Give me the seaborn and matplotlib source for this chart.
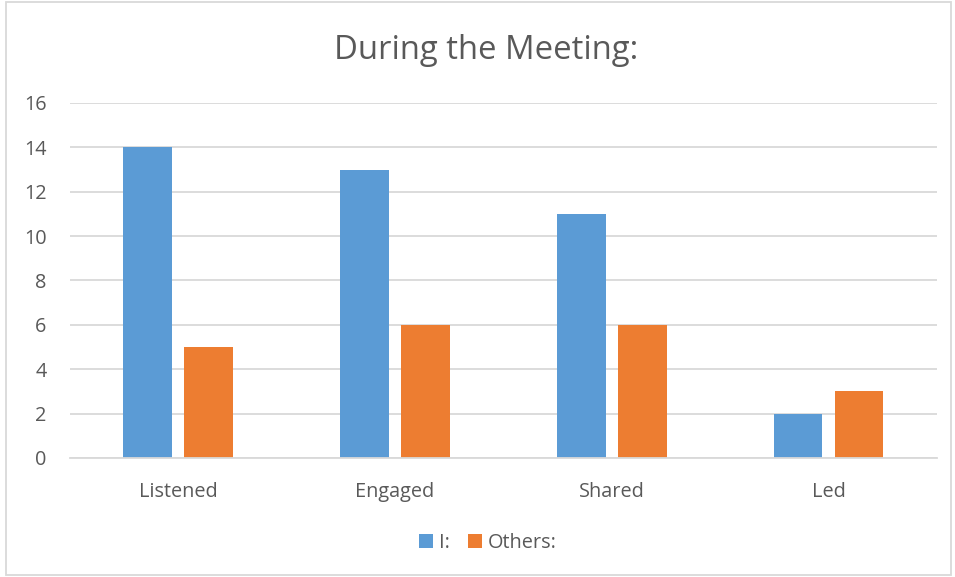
import pandas as pd
import matplotlib
matplotlib.use("Agg")
import matplotlib.pyplot as plt
import seaborn as sns
from matplotlib.patches import Rectangle

# chart data
categories = ['Listened', 'Engaged', 'Shared', 'Led']
series_names = ['I:', 'Others:']
values_i = [14, 13, 11, 2]
values_others = [5, 6, 6, 3]
y_ticks = [0, 2, 4, 6, 8, 10, 12, 14, 16]

df = pd.DataFrame({
    'Category': categories * 2,
    'Series': [series_names[0]] * 4 + [series_names[1]] * 4,
    'Value': values_i + values_others,
})

sns.set_style('white')
plt.rcParams['font.family'] = ['Open Sans', 'DejaVu Sans']
text_color = '#595959'

fig = plt.figure(figsize=(9.55, 5.77), dpi=100)
ax = fig.add_axes([0.0733, 0.2063, 0.9077, 0.6152])

sns.barplot(data=df, x='Category', y='Value', hue='Series', order=categories,
            hue_order=series_names, palette=['#5B9BD5', '#ED7D31'],
            width=0.563, gap=0.2, saturation=1, linewidth=0, ax=ax, legend=True)

ax.set_ylim(0, 16)
ax.set_xlim(-0.5, 3.5)
ax.set_yticks(y_ticks)
ax.set_yticklabels([str(t) for t in y_ticks])
ax.yaxis.grid(True, color='#D9D9D9', linewidth=1.3)
ax.set_axisbelow(True)
for side in ['top', 'right', 'left']:
    ax.spines[side].set_visible(False)
ax.spines['bottom'].set_color('#D9D9D9')
ax.spines['bottom'].set_linewidth(1.3)
ax.tick_params(axis='both', length=0, labelsize=14.3, colors=text_color)
ax.tick_params(axis='x', pad=17)
ax.tick_params(axis='y', pad=17)
ax.set_xlabel('')
ax.set_ylabel('')

fig.text(0.509, 0.913, 'During the Meeting:', ha='center', va='center',
         fontsize=23.7, color=text_color)

handles, labels = ax.get_legend_handles_labels()
ax.legend(handles, labels, loc='center', bbox_to_anchor=(0.511, 0.059),
          bbox_transform=fig.transFigure, ncol=2, frameon=False,
          fontsize=14.3, labelcolor=text_color, handlelength=0.68,
          handleheight=0.68, handletextpad=0.3, columnspacing=0.95)

# outer chart border
fig.patches.append(Rectangle((0.006, 0.003), 0.99, 0.994, transform=fig.transFigure,
                             fill=False, edgecolor='#D9D9D9', linewidth=1.3))

fig.savefig('out.png', dpi=100)
